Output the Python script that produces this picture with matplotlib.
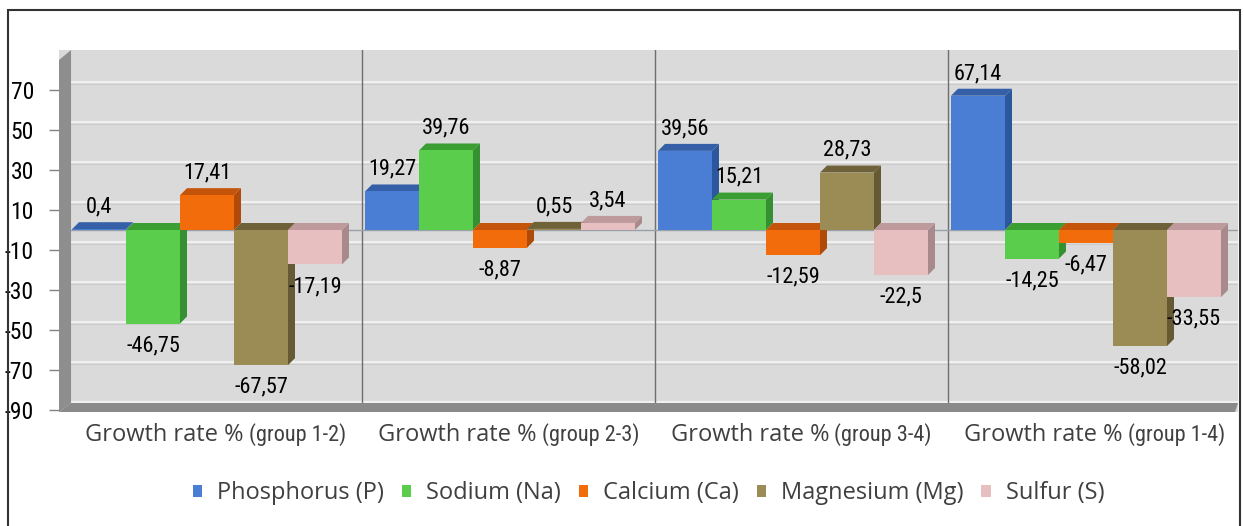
import matplotlib
matplotlib.use("Agg")
import matplotlib.pyplot as plt
from matplotlib.patches import Polygon, Rectangle, Patch
from matplotlib import font_manager as fm

# ---------------- data ----------------
categories = ["Growth rate % (group 1-2)", "Growth rate % (group 2-3)",
              "Growth rate % (group 3-4)", "Growth rate % (group 1-4)"]
series_names = ["Phosphorus (P)", "Sodium (Na)", "Calcium (Ca)", "Magnesium (Mg)", "Sulfur (S)"]
phosphorus = [0.4, 19.27, 39.56, 67.14]
sodium = [-46.75, 39.76, 15.21, -14.25]
calcium = [17.41, -8.87, -12.59, -6.47]
magnesium = [-67.57, 0.55, 28.73, -58.02]
sulfur = [-17.19, 3.54, -22.5, -33.55]
yticks = [70, 50, 30, 10, -10, -30, -50, -70, -90]

series = [phosphorus, sodium, calcium, magnesium, sulfur]
front_colors = ["#4a7dd4", "#5acd4c", "#f36c0c", "#9b8b55", "#e7bfc1"]
top_colors = ["#3560a8", "#3b9e32", "#c4540a", "#6f6239", "#bf9a9c"]
side_colors = ["#2d579c", "#349030", "#b04a08", "#655a33", "#a88a8c"]


def pick(*names):
    for n in names:
        try:
            fm.findfont(fm.FontProperties(family=n), fallback_to_default=False)
            return n
        except Exception:
            pass
    return "DejaVu Sans"


narrow = pick("Liberation Sans Narrow", "Roboto Condensed", "Liberation Sans")
sans = pick("Open Sans", "Noto Sans", "DejaVu Sans")

W, H = 1244, 526
fig = plt.figure(figsize=(W / 100, H / 100), dpi=100)
fig.patch.set_facecolor("white")

ax_l, ax_r, ax_t, ax_b = 59, 1238, 50, 412
ax = fig.add_axes([ax_l / W, 1 - ax_b / H, (ax_r - ax_l) / W, (ax_b - ax_t) / H])
ax.set_facecolor("#dadada")

px_per_cat = 293.0
x_left = -(69 - ax_l) / px_per_cat
x_right = x_left + (ax_r - ax_l) / px_per_cat
y_bot, y_top = -91, 90
ax.set_xlim(x_left, x_right)
ax.set_ylim(y_bot, y_top)

dx = 7 / px_per_cat
dy = 3.5
bw = 54 / px_per_cat
start = 3 / px_per_cat

# back-wall gridlines
for t in yticks:
    ax.plot([0.007, x_right], [t + 4, t + 4], color="#f0f0f0", lw=1.6, zorder=1)
    ax.plot([0.007, x_right], [t + 3.2, t + 3.2], color="#c8c8c8", lw=0.6, zorder=1)

# base line at zero
ax.plot([0, x_right], [0, 0], color="#9aa0aa", lw=1.0, zorder=1.5)

# category separators
for k in range(1, len(categories)):
    ax.plot([k, k], [y_bot + 4, y_top], color="#6e6e6e", lw=1.0, zorder=1.2)

# left wall and floor
ax.add_patch(Polygon([(x_left, y_bot), (x_left, y_top - 5), (0.007, y_top),
                      (0.007, y_bot + 4.5)], closed=True, facecolor="#8e8e8e",
                     edgecolor="none", zorder=1.8))
ax.add_patch(Polygon([(x_left, y_bot), (0.007, y_bot + 4.5), (x_right, y_bot + 4.5),
                      (x_right - 0.01, y_bot)], closed=True, facecolor="#8a8a8a",
                     edgecolor="none", zorder=1.8))

# bars
xs_base = list(range(len(categories)))
for j, vals in enumerate(series):
    xpos = [i + start + j * bw for i in xs_base]
    bars = ax.bar(xpos, vals, width=bw, align="edge", color=front_colors[j],
                  edgecolor="none", zorder=3 + j * 0.1 + 0.05)
    for b, v in zip(bars, vals):
        x0 = b.get_x()
        x1 = x0 + b.get_width()
        lo, hi = min(0, v), max(0, v)
        side = Polygon([(x1, lo), (x1 + dx, lo + dy), (x1 + dx, hi + dy), (x1, hi)],
                       closed=True, facecolor=side_colors[j], edgecolor="none",
                       zorder=3 + j * 0.1)
        top = Polygon([(x0, hi), (x1, hi), (x1 + dx, hi + dy), (x0 + dx, hi + dy)],
                      closed=True, facecolor=top_colors[j], edgecolor="none",
                      zorder=3 + j * 0.1)
        ax.add_patch(side)
        ax.add_patch(top)
        lab = f"{v:g}".replace(".", ",")
        off = 16 if v >= 0 else -16
        ax.annotate(lab, (x0 + b.get_width() / 2, v), xytext=(0, off),
                    textcoords="offset points", ha="center", va="center",
                    fontsize=16, family=narrow, color="black", zorder=10)

# axes styling
for s in ax.spines.values():
    s.set_visible(False)
ax.set_xticks([])
ax.set_yticks(yticks)
ax.set_yticklabels([str(t) for t in yticks], fontsize=17, family=narrow, color="black")
ax.tick_params(axis="y", length=7, width=1, color="#808080", pad=11, direction="out")

# category labels (two fonts)
fig.canvas.draw()
rend = fig.canvas.get_renderer()
for i, cat in enumerate(categories):
    main, grp = cat.split(" (")
    grp = "(" + grp
    t1 = ax.annotate(main, (i + 0.5, 0), xycoords=("data", "axes fraction"),
                     xytext=(0, -29), textcoords="offset pixels", ha="left",
                     va="baseline", fontsize=17, family=sans, color="#404040")
    t2 = ax.annotate(grp, (i + 0.5, 0), xycoords=("data", "axes fraction"),
                     xytext=(0, -29), textcoords="offset pixels", ha="left",
                     va="baseline", fontsize=16, family=narrow, color="#404040")
    w1 = t1.get_window_extent(rend).width
    w2 = t2.get_window_extent(rend).width
    gap = 5
    tot = w1 + gap + w2
    t1.xyann = (-tot / 2, -29)
    t2.xyann = (-tot / 2 + w1 + gap, -29)

# legend
handles = [Patch(facecolor=c, edgecolor="none") for c in front_colors]
fig.legend(handles, series_names, loc="center", ncol=5, frameon=False,
           bbox_to_anchor=((ax_l + ax_r) / 2 / W, 1 - 493 / H),
           prop={"family": sans, "size": 17}, labelcolor="#404040",
           handlelength=0.4, handleheight=0.4, handletextpad=0.64,
           columnspacing=0.75)

# outer frame
fig.add_artist(Rectangle((8 / W, -0.05), (1240 - 8) / W, 1.05 - 10 / H,
                         transform=fig.transFigure, fill=False,
                         edgecolor="#333333", lw=1.5))

fig.savefig("out.png", dpi=100)
